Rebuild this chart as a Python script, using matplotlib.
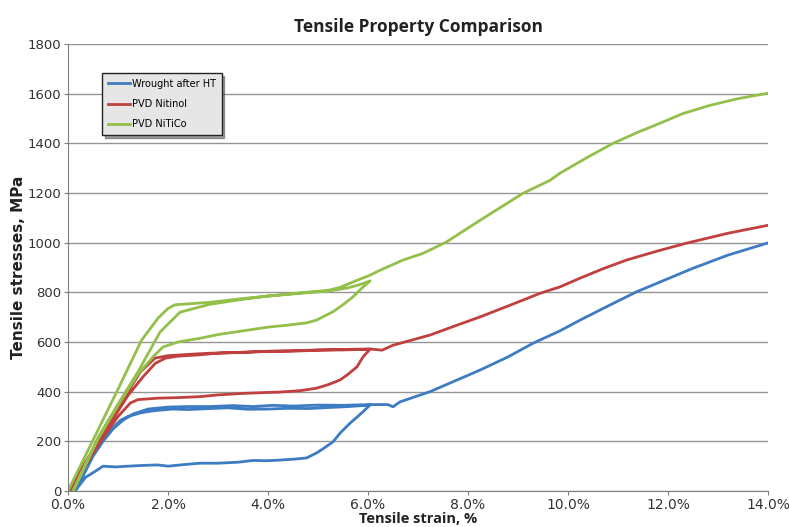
import matplotlib
matplotlib.use("Agg")
import matplotlib.pyplot as plt
from matplotlib.ticker import FuncFormatter

# strain (%) / stress (MPa)
# each series: first load to ~6%, unload, reload to 14%
wrought_strain = [0.10, 0.30, 0.50, 0.70, 0.90, 1.05, 1.20, 1.44, 1.60, 1.80, 2.10, 2.40, 2.84, 3.20, 3.60, 4.00, 4.40, 4.80, 5.20, 5.60, 6.04,
                  5.85, 5.64, 5.45, 5.30, 5.10, 4.97, 4.77, 4.50, 4.20, 3.97, 3.70, 3.40, 3.00, 2.64, 2.30, 2.00, 1.80, 1.50, 1.20, 0.95, 0.70, 0.55, 0.35, 0.14,
                  0.30, 0.50, 0.70, 0.90, 1.10, 1.30, 1.60, 2.00, 2.40, 2.84, 3.30, 3.70, 4.10, 4.50, 5.00, 5.50, 6.04, 6.40, 6.50, 6.64,
                  7.24, 7.70, 8.24, 8.80, 9.30, 9.84, 10.24, 10.80, 11.37, 12.00, 12.50, 13.20, 14.00]
wrought_stress = [0, 70, 150, 210, 255, 285, 300, 314, 320, 325, 330, 328, 332, 335, 329, 330, 333, 332, 336, 340, 346,
                  310, 273, 235, 198, 170, 153, 133, 128, 124, 122, 123, 116, 112, 112, 106, 100, 105, 103, 100, 97, 100, 80, 55, 0,
                  60, 140, 200, 250, 285, 310, 330, 338, 340, 340, 344, 340, 345, 342, 346, 345, 348, 348, 339, 359,
                  400, 440, 487, 540, 595, 645, 688, 745, 802, 855, 897, 950, 999]

nitinol_strain = [0.00, 0.30, 0.60, 0.90, 1.20, 1.45, 1.74, 2.00, 2.40, 2.84, 3.50, 4.00, 4.50, 5.00, 5.50, 6.04,
                  5.90, 5.78, 5.60, 5.44, 5.20, 4.97, 4.64, 4.20, 4.00, 3.50, 3.00, 2.64, 2.20, 1.80, 1.40, 1.25, 1.00, 0.70, 0.40, 0.05,
                  0.30, 0.60, 0.90, 1.20, 1.50, 1.75, 1.95, 2.20, 2.60, 3.00, 3.50, 4.00, 4.50, 5.00, 5.50, 6.04, 6.28, 6.50,
                  7.24, 7.70, 8.24, 8.80, 9.44, 9.84, 10.24, 10.70, 11.17, 11.80, 12.37, 13.20, 14.00]
nitinol_stress = [0, 100, 200, 300, 400, 480, 535, 545, 550, 555, 558, 562, 563, 567, 568, 571,
                  540, 500, 470, 447, 428, 414, 404, 398, 397, 393, 387, 380, 376, 374, 368, 355, 300, 215, 120, 0,
                  90, 190, 290, 385, 460, 515, 535, 543, 548, 555, 559, 563, 565, 568, 570, 572, 567, 587,
                  628, 662, 701, 745, 796, 822, 857, 895, 930, 967, 998, 1038, 1070]

niti_co_strain = [0.00, 0.50, 1.00, 1.47, 1.80, 2.00, 2.14, 2.50, 2.84, 3.50, 4.00, 4.64, 5.20, 5.60, 5.85, 6.04,
                  5.85, 5.70, 5.50, 5.30, 4.97, 4.77, 4.40, 4.00, 3.50, 3.00, 2.64, 2.20, 1.90, 1.70, 1.40, 1.00, 0.60, 0.10,
                  0.60, 1.00, 1.40, 1.84, 2.24, 2.84, 3.50, 4.00, 4.64, 5.20, 5.44, 5.80, 6.04, 6.24, 6.70, 7.10, 7.57,
                  8.24, 9.10, 9.64, 9.84, 10.40, 10.90, 11.40, 11.84, 12.30, 12.84, 13.40, 14.00]
niti_co_stress = [0, 205, 410, 607, 696, 735, 750, 755, 760, 775, 785, 796, 805, 818, 832, 846,
                  812, 782, 750, 722, 688, 677, 668, 660, 645, 630, 615, 600, 580, 540, 470, 345, 210, 0,
                  215, 350, 480, 640, 720, 752, 772, 785, 798, 808, 820, 850, 869, 889, 930, 957, 1003,
                  1090, 1199, 1251, 1280, 1345, 1400, 1445, 1481, 1520, 1553, 1580, 1602]

labels = ["Wrought after HT", "PVD Nitinol", "PVD NiTiCo"]
colors = ["#3d7cc2", "#c0403f", "#93bf4a"]

fig = plt.figure(figsize=(7.89, 5.27), dpi=100)
ax = fig.add_axes([0.0862, 0.0683, 0.8872, 0.8482])

series = [(wrought_strain, wrought_stress), (nitinol_strain, nitinol_stress), (niti_co_strain, niti_co_stress)]
for (x, y), lab, c in zip(series, labels, colors):
    ax.plot(x, y, color=c, lw=2.0, label=lab, solid_joinstyle="round")

ax.set_xlim(0, 14)
ax.set_ylim(0, 1800)
ax.set_xticks(range(0, 15, 2))
ax.set_yticks(range(0, 1801, 200))
ax.xaxis.set_major_formatter(FuncFormatter(lambda v, p: "%.1f%%" % v))
ax.grid(axis="y", color="#959595", lw=1.0)
ax.set_axisbelow(True)
for s in ["top", "right"]:
    ax.spines[s].set_visible(False)
for s in ["left", "bottom"]:
    ax.spines[s].set_color("#7f7f7f")
ax.tick_params(axis="both", color="#7f7f7f", length=3, direction="out")
ax.tick_params(axis="y", labelsize=9.5, labelcolor="#333333", pad=2)
ax.tick_params(axis="x", labelsize=10, labelcolor="#333333", pad=2)

ax.set_title("Tensile Property Comparison", fontsize=12.5, fontweight="bold",
             family=["Open Sans", "DejaVu Sans"], color="#222222", pad=9)
ax.set_ylabel("Tensile stresses, MPa", fontsize=11, fontweight="bold", color="#222222")
ax.yaxis.set_label_coords(-0.06, 0.5)
ax.set_xlabel("Tensile strain, %", fontsize=10.5, fontweight="bold",
              family=["Open Sans", "DejaVu Sans"], color="#222222")
ax.xaxis.set_label_coords(0.5, -0.047)

leg = ax.legend(loc="upper left", bbox_to_anchor=(0.0486, 0.935), borderaxespad=0,
                fontsize=7, frameon=True, fancybox=False, shadow=True,
                handlelength=2.3, borderpad=0.6, labelspacing=1.05, handletextpad=0.15)
leg.get_frame().set_facecolor("#e6e6e6")
leg.get_frame().set_edgecolor("#222222")
leg.get_frame().set_linewidth(1.0)
leg.get_frame().set_alpha(1)

fig.savefig("out.png", dpi=100)
